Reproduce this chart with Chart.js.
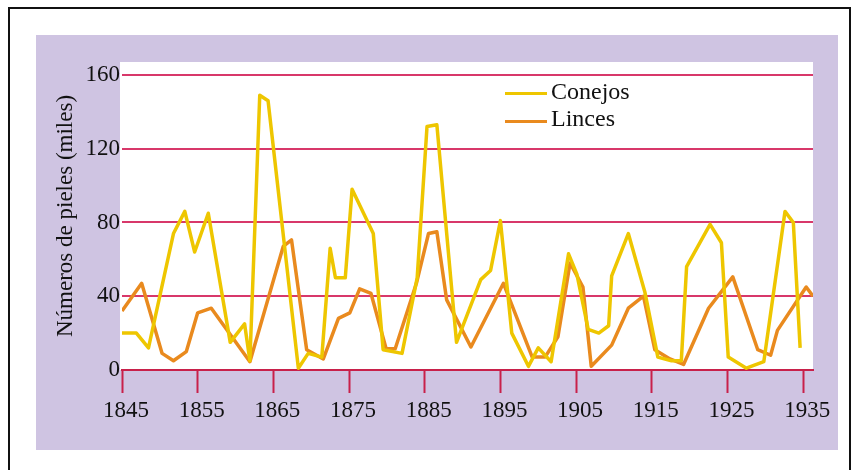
<!DOCTYPE html>
<html>
<head>
<meta charset="utf-8">
<script src="https://cdn.jsdelivr.net/npm/chart.js@4.4.1/dist/chart.umd.min.js"></script>
<style>
  body { margin: 0; background: #fff; width: 856px; height: 470px; position: relative; overflow: hidden; }
  #frame { position: absolute; left: 8px; top: 7px; width: 843px; height: 480px; border: 2px solid #111; box-sizing: border-box; }
  #panel { position: absolute; left: 36px; top: 35px; width: 802px; height: 415px; }
  .key { position: absolute; font-family: "Liberation Serif", "Times New Roman", serif; font-size: 24px; line-height: 24px; color: #111; }
  .swatch { position: absolute; height: 3px; width: 42px; }
</style>
</head>
<body>
<div id="frame"></div>
<canvas id="panel" width="802" height="415"></canvas>
<div class="swatch" style="left:505px; top:92px; background:#eec600;"></div>
<div class="key" style="left:551px; top:79px;">Conejos</div>
<div class="swatch" style="left:505px; top:120px; background:#e98a1e;"></div>
<div class="key" style="left:551px; top:106px;">Linces</div>
<script>
// Hudson's Bay fur records (thousands of pelts)
const conejosYears = [1845, 1846.9, 1848.5, 1851.8, 1853.3, 1854.6, 1856.4, 1859.3, 1861.2, 1861.9,
  1863.2, 1864.3, 1868.3, 1869.6, 1871.4, 1872.5, 1873.2, 1874.5, 1875.4, 1878.2,
  1879.5, 1882, 1884, 1885.3, 1886.6, 1889.2, 1892.4, 1893.7, 1895, 1896.5,
  1898.7, 1900, 1901.7, 1904, 1905.1, 1906.6, 1908, 1909.3, 1909.7, 1911.9,
  1914.1, 1915.8, 1917.6, 1918.9, 1919.6, 1922.7, 1924.2, 1925.1, 1927.5, 1929.8,
  1932.6, 1933.7, 1934.6];
const conejosValues = [20, 20, 12, 74, 86, 64, 85, 15, 25, 5,
  149, 146, 1, 9, 7, 66, 50, 50, 98, 74,
  11, 9, 50, 132, 133, 15, 49, 54, 81, 20,
  2, 12, 4.5, 63, 52, 22, 20, 24, 51, 74,
  42, 7, 5, 5, 56, 79, 69, 7, 1, 4.5,
  86, 80, 12];

const lincesYears = [1845, 1847.6, 1850.3, 1851.8, 1853.5, 1855, 1856.8, 1861.9, 1866.3, 1867.4,
  1869.4, 1871.6, 1873.6, 1875.1, 1876.4, 1877.9, 1879.9, 1881.1, 1883.9, 1885.5,
  1886.6, 1887.9, 1891.1, 1895.4, 1899.2, 1900.9, 1902.6, 1904.2, 1905.9, 1907,
  1909.7, 1911.9, 1913.9, 1915.4, 1917.4, 1919.2, 1922.5, 1925.7, 1929, 1930.7,
  1931.6, 1935.4, 1936.3];
const lincesValues = [32, 47, 9, 5, 10, 31, 33.5, 4.5, 67, 70.5,
  11, 6, 28, 31, 44, 41.5, 11.5, 11.5, 47, 74,
  75, 38, 12.5, 47, 7, 7, 18, 58, 45, 2,
  13.5, 33.5, 40, 11, 6, 3, 33.5, 50.5, 11, 8,
  21.5, 45, 40];

const xTicks = [1845, 1855, 1865, 1875, 1885, 1895, 1905, 1915, 1925, 1935];
const yTicks = [0, 40, 80, 120, 160];

const serif = "'Liberation Serif', 'Times New Roman', serif";
const gridPink = "#d8386a";

function toPoints(xs, ys) {
    return xs.map((x, i) => ({ x: x, y: ys[i] }));
}

// lavender panel with white plotting area
const panelBackground = {
    id: "panelBackground",
    beforeDraw(chart) {
        const { ctx, chartArea } = chart;
        ctx.save();
        ctx.fillStyle = "#cfc4e2";
        ctx.fillRect(0, 0, chart.width, chart.height);
        ctx.fillStyle = "#ffffff";
        ctx.fillRect(chartArea.left - 2, chartArea.top, chartArea.right - chartArea.left + 2, chartArea.bottom - chartArea.top);
        ctx.restore();
    }
};

new Chart(document.getElementById("panel"), {
    type: "line",
    data: {
        datasets: [
            {
                label: "Conejos",
                data: toPoints(conejosYears, conejosValues),
                borderColor: "#eec600",
                borderWidth: 3.5,
                pointRadius: 0,
                tension: 0,
                borderJoinStyle: "round"
            },
            {
                label: "Linces",
                data: toPoints(lincesYears, lincesValues),
                borderColor: "#e98a1e",
                borderWidth: 3.5,
                pointRadius: 0,
                tension: 0,
                borderJoinStyle: "round"
            }
        ]
    },
    options: {
        responsive: false,
        animation: false,
        devicePixelRatio: 1,
        layout: { padding: { top: 27, right: 25, left: 0, bottom: 0 } },
        plugins: {
            legend: { display: false },
            tooltip: { enabled: false }
        },
        scales: {
            x: {
                type: "linear",
                min: 1845,
                max: 1936.3,
                afterBuildTicks: (scale) => { scale.ticks = xTicks.map(v => ({ value: v })); },
                afterFit: (scale) => { scale.height = 80; },
                grid: {
                    drawOnChartArea: false,
                    drawTicks: true,
                    tickLength: 23,
                    tickColor: "#c8204a",
                    tickWidth: 2,
                    color: "#c8204a"
                },
                border: { display: true, color: "#c8204a", width: 2 },
                ticks: {
                    color: "#111",
                    padding: 4,
                    labelOffset: 4,
                    maxRotation: 0,
                    font: { family: serif, size: 23 },
                    callback: (v) => String(v)
                }
            },
            y: {
                min: 0,
                max: 167,
                afterBuildTicks: (scale) => { scale.ticks = yTicks.map(v => ({ value: v })); },
                afterFit: (scale) => { scale.width = 86; },
                grid: { color: gridPink, lineWidth: 2, drawTicks: false },
                border: { display: false },
                ticks: {
                    color: "#111",
                    padding: 2,
                    font: { family: serif, size: 23 }
                },
                title: {
                    display: true,
                    text: "Números de pieles (miles)",
                    color: "#111",
                    font: { family: serif, size: 23 },
                    padding: { top: 16, bottom: 0 }
                }
            }
        }
    },
    plugins: [panelBackground]
});
</script>
</body>
</html>
